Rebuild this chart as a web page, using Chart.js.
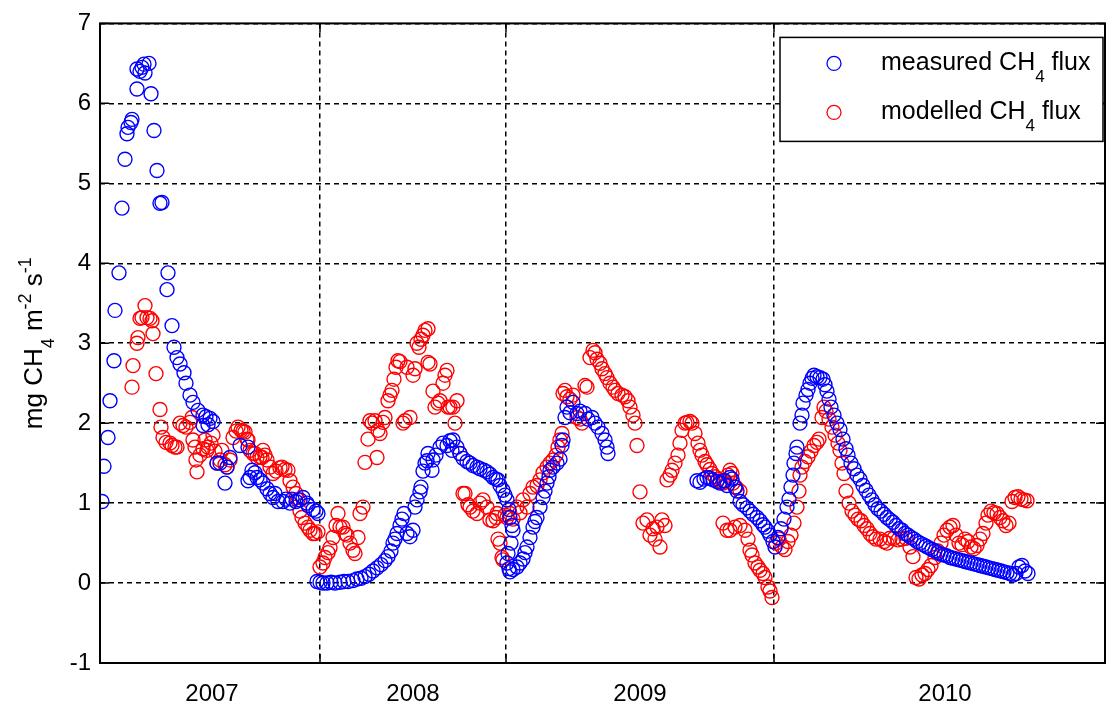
<!DOCTYPE html>
<html><head><meta charset="utf-8">
<script src="https://cdn.jsdelivr.net/npm/chart.js@4"></script>
<style>html,body{margin:0;padding:0;background:#fff;}#wrap{width:1107px;height:709px;position:relative;}</style>
</head><body><div id="wrap"><canvas id="c" width="1107" height="709"></canvas></div>
<script>
// ---- data (x = sample index along the record, y = flux) ----
const yearLabels = ['2007', '2008', '2009', '2010'];
const yearLabelPos = [56, 156.5, 270, 422.5];
const yearBoundaries = [110, 203, 337];
const yTickValues = [-1, 0, 1, 2, 3, 4, 5, 6, 7];
const seriesNames = ['measured', 'modelled'];

const measuredX = [1,2,4,5,7,7.5,9.5,11,12.5,13.5,14,15.5,16,18.5,18.5,20,21,22,22.5,24.5,25.5,27,28.5,30,31,33.5,34,36,37,38.5,40,42,43,45,46.5,49,51.5,53,55,56.5,51.5,54,58.5,60,62.5,63.5,65,70,74,74,75,76,77.5,78.5,80,81.5,83.5,85,86.5,87.5,89,91.5,93,95,96,98,100,101.5,103.5,104,106.5,108,109,
108.5,110,111.5,113.5,115.5,117.5,120,122,124,126.5,128.5,130.5,132.5,134.5,136.5,138.5,140.5,142.5,144,145.5,146.5,147.5,148.5,150,151,152,153.5,155,156.5,157.5,158.5,160,160.5,161.5,162.5,163.5,164,166,166.5,168,170,171.5,173.5,175,176.5,176,178.5,180,181.5,183.5,185,186.5,188.5,190,192,193.5,195,196.5,198,199,200,201.5,202.5,203.5,204.5,205,206,206.5,205.5,204,203.5,204.5,205,206.5,208.5,210,211.5,212.5,213.5,215,216.5,217.5,218.5,220,221.5,222.5,223.5,224.5,225,226.5,228.5,230,231,231.5,232.5,233.5,235,236.5,238.5,240,242.5,244,246,247.5,249,251,252.5,253.5,254,
298.5,300,302,303.5,305,306.5,308.5,310,312,313.5,315,316,317.5,318.5,320,321.5,323.5,325,326.5,328.5,330,331.5,332.5,334,335,336.5,337.5,339,340.5,342,343.5,344.5,345.5,346.5,347,348,348.5,350,351,351.5,353,354,355,356,357,358.5,360,361.5,362.5,363.5,364.5,365.5,367,368.5,370,371.5,373,374,375.5,377,378.5,380,381.5,383,384.5,386,387.5,389,390.5,392,393.5,395,396.5,398,399.5,401,402.5,404,405.5,407,408.5,410,411.5,413,414.5,416,417.5,419,420.5,422,423.5,425,426.5,428,429.5,431,432.5,434,435.5,437,438.5,440,441.5,443,444.5,446,447.5,449,450.5,452,453.5,455,456.5,458,459.5,461,462.5,464];
const measuredY = [1.02,1.46,1.82,2.28,2.78,3.41,3.88,4.69,5.3,5.62,5.7,5.76,5.8,6.18,6.43,6.4,6.45,6.49,6.38,6.5,6.12,5.66,5.16,4.75,4.76,3.67,3.88,3.22,2.95,2.82,2.74,2.63,2.5,2.35,2.26,2.16,2.1,2.08,2.06,2.02,1.97,1.98,1.5,1.5,1.25,1.45,1.57,1.72,1.7,1.28,1.32,1.41,1.38,1.32,1.29,1.25,1.18,1.12,1.07,1.12,1.02,1.02,1.05,1.0,1.05,1.02,1.04,1.07,1.0,0.97,0.92,0.9,0.87,
0.02,0.01,0.0,0.0,0.01,0.0,0.01,0.02,0.02,0.03,0.05,0.06,0.08,0.11,0.15,0.19,0.23,0.28,0.33,0.4,0.5,0.55,0.62,0.72,0.8,0.87,0.62,0.58,0.66,0.95,1.04,1.14,1.2,1.4,1.5,1.53,1.62,1.41,1.54,1.6,1.7,1.75,1.72,1.78,1.79,1.66,1.7,1.62,1.56,1.52,1.5,1.47,1.45,1.43,1.41,1.39,1.36,1.32,1.3,1.29,1.22,1.16,1.1,1.04,0.92,0.82,0.72,0.66,0.5,0.37,0.25,0.18,0.14,0.17,0.2,0.25,0.3,0.38,0.45,0.57,0.7,0.77,0.82,0.95,1.07,1.15,1.25,1.33,1.41,1.45,1.5,1.55,1.72,1.79,2.07,2.2,2.13,2.26,2.12,2.15,2.12,2.05,2.07,2.0,1.95,1.87,1.79,1.7,1.62,
1.28,1.26,1.3,1.32,1.31,1.29,1.27,1.25,1.28,1.22,1.32,1.3,1.2,1.15,1.02,0.98,0.94,0.9,0.86,0.82,0.78,0.73,0.7,0.65,0.6,0.52,0.45,0.57,0.68,0.8,0.95,1.05,1.2,1.35,1.5,1.62,1.7,2.0,2.1,2.25,2.35,2.42,2.5,2.56,2.6,2.58,2.57,2.55,2.48,2.4,2.3,2.2,2.1,2.0,1.92,1.8,1.68,1.6,1.5,1.43,1.35,1.3,1.22,1.16,1.1,1.04,0.98,0.93,0.9,0.86,0.82,0.79,0.76,0.72,0.68,0.66,0.62,0.6,0.57,0.55,0.52,0.5,0.48,0.46,0.44,0.42,0.4,0.38,0.36,0.35,0.34,0.32,0.31,0.3,0.29,0.28,0.27,0.26,0.25,0.24,0.23,0.22,0.21,0.2,0.19,0.18,0.17,0.16,0.15,0.14,0.13,0.12,0.1,0.12,0.2,0.22,0.15,0.12];

const modelledX = [18.5,19,16.5,16,20,21,22.5,23.5,25,26,26.5,28,30,30.5,31.5,33,35,36,37.5,38.5,40,41.5,43,45,46,46.5,47.5,48,48.5,50,51.5,52.5,53.5,54,55.5,56.5,57.5,58.5,60,61,62.5,63.5,65,66.5,68,69,70.5,71.5,72.5,73.5,74,75,76.5,77.5,78.5,80,81,81.5,82.5,83.5,85,86.5,88,90,91,92.5,94,95,96.5,98,99,100,101,102.5,104,105,106.5,107.5,109,
110,111.5,112.5,114,115,116.5,118,119,120,121.5,122.5,123.5,125,126.5,127.5,129,130,131.5,132.5,134,135,136,137.5,138.5,139,140,141.5,142.5,144,145,146,147,148,149,150,151.5,152.5,153.5,155,156.5,157.5,158.5,159.5,160.5,161.5,162.5,164,164,165,166.5,167.5,169,170,171.5,172.5,173.5,174,175,176.5,177.5,178.5,180,181.5,182.5,184,185,186.5,188.5,190,191.5,193.5,195,196.5,198,198.5,199,200,201,201.5,
202.5,203.5,205,206.5,208.5,210,211.5,213.5,215,216.5,218.5,220,221.5,223.5,225,226.5,228,229,230,231,231.5,232.5,233.5,235,236.5,238.5,240,241,242.5,243.5,245,246.5,247.5,248.5,250,251,252.5,253.5,255,256.5,257.5,259,261,262.5,264,265,266.5,267.5,268.5,270,271.5,273.5,275,276.5,277.5,278.5,280,281,282.5,283.5,285,286,287.5,289,290,291,292.5,293.5,295,296,297.5,299,300,301,302.5,303.5,305,306,307.5,309,310,311.5,312.5,314,315,316,316.5,318,320,311.5,313.5,315,317.5,320,322.5,324,325,326,327.5,329,330,331.5,332.5,334,335,336,
338,339.5,341,342.5,344,345.5,347,348.5,349.5,350,351,352.5,354,355.5,357,358.5,359.5,361,362,363,364.5,366,367.5,369,370,371,372,373,374.5,376,377.5,379,380.5,382,383.5,385,386.5,388,390,392,393.5,395,397,399,401,403,405,406.5,408,409.5,411,412.5,414,415.5,417.5,419,420.5,422,423.5,425,426.5,428,429.5,431,432.5,434,435.5,437,438.5,440,441.5,443,444,445.5,447,448.5,450,451.5,453,454.5,456,457.5,459,460.5,462,463.5];
const modelledY = [3.0,3.07,2.72,2.45,3.31,3.32,3.47,3.32,3.31,3.28,3.12,2.62,2.17,1.95,1.82,1.76,1.75,1.72,1.7,1.7,2.0,1.97,1.95,2.01,2.07,1.79,1.7,1.54,1.39,1.6,1.68,1.79,1.66,1.7,1.75,1.85,1.65,1.5,1.54,1.66,1.48,1.45,1.54,1.82,1.9,1.95,1.91,1.9,1.89,1.8,1.79,1.66,1.62,1.62,1.57,1.58,1.57,1.66,1.6,1.54,1.45,1.37,1.4,1.44,1.45,1.42,1.41,1.28,1.2,1.12,1.04,0.9,0.82,0.75,0.7,0.66,0.62,0.62,0.64,
0.2,0.25,0.32,0.38,0.44,0.57,0.72,0.87,0.7,0.7,0.62,0.6,0.5,0.41,0.37,0.57,0.87,0.95,1.51,1.8,2.03,2.0,2.03,1.57,1.91,1.87,2.01,2.07,2.28,2.35,2.41,2.55,2.7,2.78,2.77,2.0,2.03,2.7,2.07,2.6,2.68,3.0,2.95,3.05,3.1,3.16,3.18,2.76,2.74,2.4,2.2,2.25,2.28,2.5,2.6,2.66,2.2,2.2,2.2,2.0,2.28,1.62,1.12,1.12,0.98,0.95,0.9,0.87,1.0,1.04,0.95,0.79,0.78,0.82,0.87,0.55,0.5,0.32,0.29,
0.85,0.82,0.87,0.8,0.95,0.88,1.04,0.95,1.12,1.2,1.22,1.29,1.38,1.45,1.5,1.54,1.6,1.7,1.79,1.87,2.37,2.41,2.33,2.3,2.35,2.07,2.05,2.0,2.47,2.45,2.82,2.91,2.88,2.8,2.75,2.68,2.62,2.57,2.5,2.45,2.41,2.37,2.35,2.33,2.28,2.2,2.1,2.0,1.72,1.14,0.75,0.79,0.6,0.68,0.55,0.7,0.45,0.79,0.72,1.29,1.35,1.41,1.5,1.6,1.75,1.91,2.0,2.01,2.02,2.0,1.87,1.75,1.66,1.6,1.52,1.48,1.42,1.37,1.33,1.3,1.27,1.25,1.28,1.35,1.41,1.37,1.25,1.2,1.15,0.75,0.66,0.66,0.7,0.72,0.66,0.55,0.41,0.35,0.25,0.2,0.16,0.12,0.07,-0.05,-0.1,-0.18,
0.5,0.55,0.45,0.42,0.52,0.6,0.75,0.95,1.15,1.35,1.45,1.52,1.58,1.65,1.72,1.76,1.8,2.07,2.2,2.15,2.05,1.95,1.85,1.75,1.66,1.5,1.37,1.15,1.0,0.9,0.85,0.8,0.78,0.72,0.68,0.62,0.58,0.55,0.55,0.52,0.5,0.56,0.56,0.54,0.55,0.56,0.45,0.33,0.07,0.05,0.1,0.12,0.17,0.22,0.32,0.4,0.5,0.6,0.66,0.7,0.72,0.6,0.5,0.48,0.55,0.52,0.45,0.43,0.47,0.55,0.62,0.75,0.85,0.9,0.88,0.87,0.82,0.78,0.72,0.75,1.02,1.07,1.08,1.05,1.04,1.03];

const toPoints = (xs, ys) => xs.map((x, i) => ({ x: x, y: ys[i] }));

const FONT = '"Liberation Sans", Arial, sans-serif';
const BLUE = '#0000ff', RED = '#ff0000';

function drawRich(ctx, parts, x, y) {
  let cx = x;
  parts.forEach(p => { ctx.font = p.size + 'px ' + FONT; ctx.fillText(p.t, cx, y + (p.dy || 0)); cx += ctx.measureText(p.t).width; });
}
function richWidth(ctx, parts) {
  let w = 0;
  parts.forEach(p => { ctx.font = p.size + 'px ' + FONT; w += ctx.measureText(p.t).width; });
  return w;
}

const matlabPlugin = {
  id: 'matlabBox',
  afterDraw(chart) {
    const ctx = chart.ctx, ca = chart.chartArea;
    const xs = chart.scales.x, ys = chart.scales.y;
    ctx.save();
    ctx.setLineDash([]);
    ctx.strokeStyle = '#000';
    // inner tick marks
    ctx.lineWidth = 1.5;
    ctx.beginPath();
    yTickValues.forEach(v => {
      const y = ys.getPixelForValue(v);
      ctx.moveTo(ca.left, y); ctx.lineTo(ca.left + 9, y);
      ctx.moveTo(ca.right, y); ctx.lineTo(ca.right - 9, y);
    });
    yearBoundaries.forEach(v => {
      const x = xs.getPixelForValue(v);
      ctx.moveTo(x, ca.bottom); ctx.lineTo(x, ca.bottom - 9);
      ctx.moveTo(x, ca.top); ctx.lineTo(x, ca.top + 9);
    });
    ctx.stroke();
    // axes box
    ctx.lineWidth = 2;
    ctx.strokeRect(ca.left, ca.top, ca.right - ca.left, ca.bottom - ca.top);

    // legend
    const lx = ca.right - 325, ly = ca.top + 14, lw = 323, lh = 104;
    ctx.fillStyle = '#fff';
    ctx.fillRect(lx, ly, lw, lh);
    ctx.lineWidth = 1.5;
    ctx.strokeRect(lx, ly, lw, lh);
    const rows = [
      { c: BLUE, parts: [{ t: 'measured CH', size: 25 }, { t: '4', size: 17, dy: 12 }, { t: ' flux', size: 25 }] },
      { c: RED, parts: [{ t: 'modelled CH', size: 25 }, { t: '4', size: 17, dy: 12 }, { t: ' flux', size: 25 }] }
    ];
    rows.forEach((r, i) => {
      const cy = ly + 26 + i * 49;
      ctx.beginPath();
      ctx.strokeStyle = r.c; ctx.lineWidth = 1.3;
      ctx.arc(lx + 54, cy, 7, 0, Math.PI * 2);
      ctx.stroke();
      ctx.fillStyle = '#000';
      ctx.textBaseline = 'alphabetic';
      ctx.textAlign = 'left';
      drawRich(ctx, r.parts, lx + 101, cy + 7);
    });

    // y axis title
    const tparts = [
      { t: 'mg CH', size: 26 }, { t: '4', size: 18, dy: 12 },
      { t: ' m', size: 26 }, { t: '-2', size: 18, dy: -11 },
      { t: ' s', size: 26 }, { t: '-1', size: 18, dy: -11 }
    ];
    ctx.translate(42, (ca.top + ca.bottom) / 2);
    ctx.rotate(-Math.PI / 2);
    ctx.fillStyle = '#000';
    ctx.textBaseline = 'alphabetic';
    ctx.textAlign = 'left';
    const tw = richWidth(ctx, tparts);
    drawRich(ctx, tparts, -tw / 2, 0);
    ctx.restore();
  }
};

new Chart(document.getElementById('c'), {
  type: 'scatter',
  data: {
    datasets: [
      { label: seriesNames[0], data: toPoints(measuredX, measuredY), borderColor: BLUE, backgroundColor: 'rgba(0,0,0,0)', pointRadius: 7, pointBorderWidth: 1.4, pointStyle: 'circle' },
      { label: seriesNames[1], data: toPoints(modelledX, modelledY), borderColor: RED, backgroundColor: 'rgba(0,0,0,0)', pointRadius: 7, pointBorderWidth: 1.4, pointStyle: 'circle' }
    ]
  },
  options: {
    responsive: false,
    animation: false,
    events: [],
    layout: { autoPadding: false, padding: { left: 0, right: 2, top: 22, bottom: 0 } },
    plugins: { legend: { display: false }, tooltip: { enabled: false }, title: { display: false } },
    scales: {
      x: {
        type: 'linear', min: 0, max: 502.5,
        afterBuildTicks: (s) => {
          const t = yearBoundaries.map(v => ({ value: v })).concat(yearLabelPos.map(v => ({ value: v })));
          t.sort((a, b) => a.value - b.value);
          s.ticks = t;
        },
        afterFit: (s) => { s.height = 46; },
        ticks: {
          autoSkip: false, maxRotation: 0, padding: 17,
          color: '#000', font: { family: FONT, size: 24 },
          callback: (v) => { const i = yearLabelPos.indexOf(v); return i >= 0 ? yearLabels[i] : ''; }
        },
        grid: {
          drawTicks: false, lineWidth: 1.5,
          color: (c) => (c.tick && yearBoundaries.includes(c.tick.value)) ? '#000' : 'rgba(0,0,0,0)'
        },
        border: { display: false, dash: [5, 4] }
      },
      y: {
        type: 'linear', min: -1, max: 7,
        afterBuildTicks: (s) => { s.ticks = yTickValues.map(v => ({ value: v })); },
        afterFit: (s) => { s.width = 100; },
        ticks: { padding: 9, color: '#000', font: { family: FONT, size: 24 } },
        grid: { drawTicks: false, lineWidth: 1.5, color: '#000' },
        border: { display: false, dash: [5, 4] }
      }
    }
  },
  plugins: [matlabPlugin]
});
</script></body></html>
